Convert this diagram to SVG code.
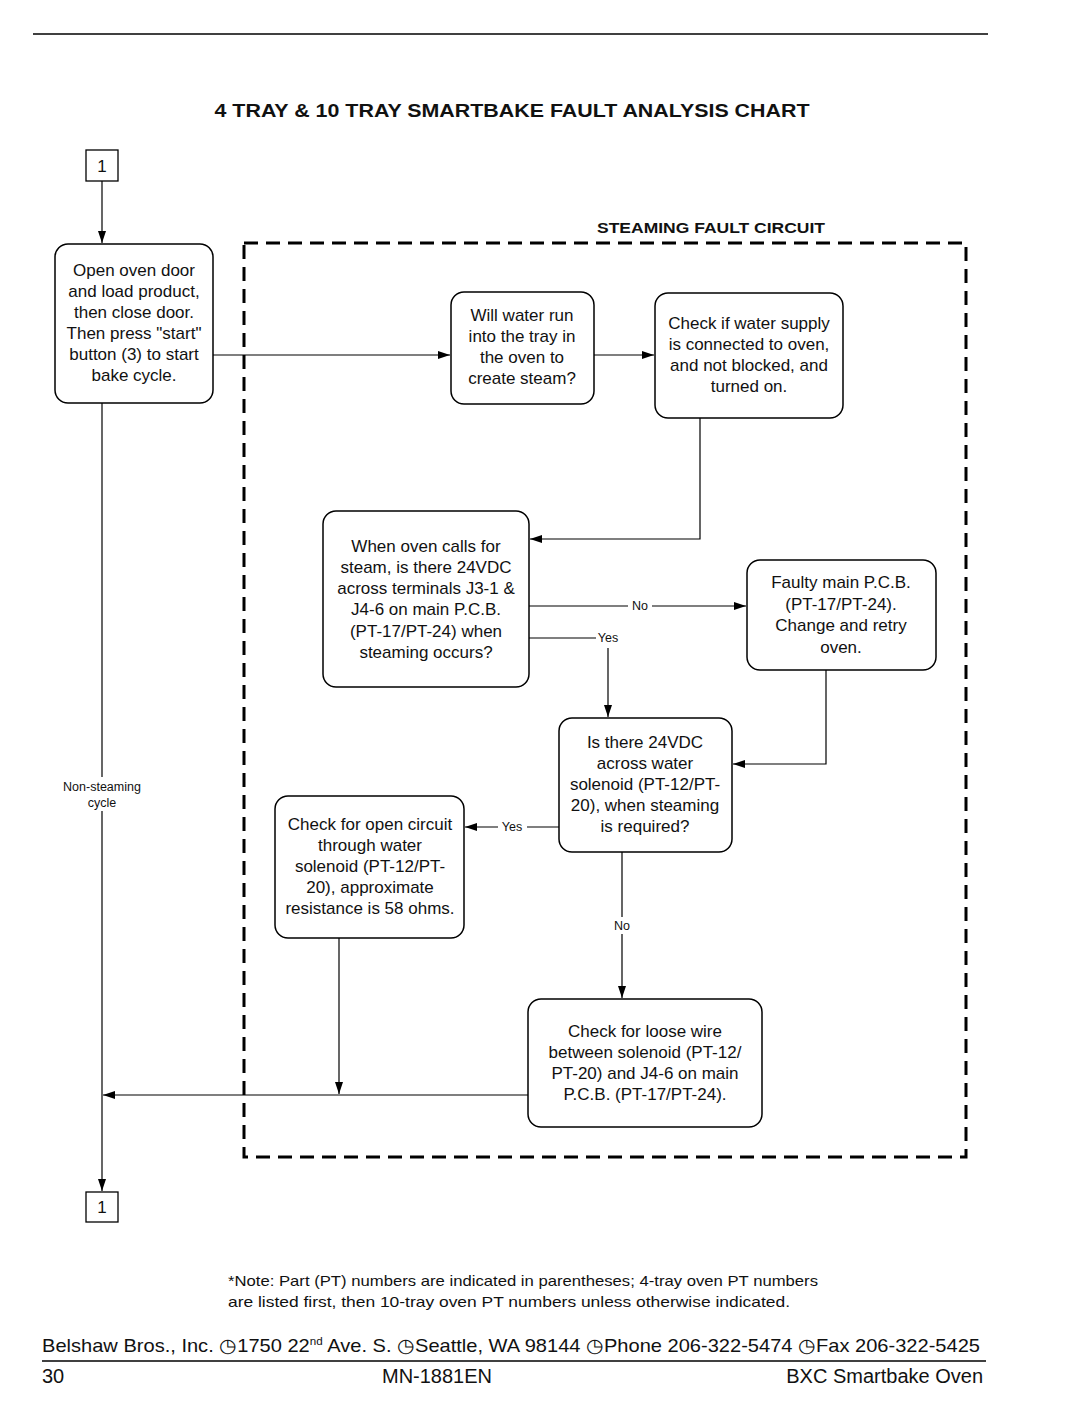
<svg xmlns="http://www.w3.org/2000/svg" width="1080" height="1425" viewBox="0 0 1080 1425">
<defs>
<marker id="arr" markerWidth="12" markerHeight="8" refX="12" refY="4" orient="auto" markerUnits="userSpaceOnUse">
<path d="M0,0 L12,4 L0,8 Z" fill="#000"/>
</marker>
<style>
.node rect{fill:#fff;stroke:#000;stroke-width:1.5}
.node text,.lbl{font-family:"Liberation Sans",Arial,sans-serif;font-size:17px;text-anchor:middle;fill:#111}
.conn path{fill:none;stroke:#000;stroke-width:1.2}
.conn path.a{marker-end:url(#arr)}
.lbl{font-size:12.5px}
.ft{font-family:"Liberation Sans",Arial,sans-serif;fill:#111}
</style>
</defs>
<rect width="1080" height="1425" fill="#fff"/>
<line x1="33" y1="34" x2="988" y2="34" stroke="#000" stroke-width="1.5"/>
<text x="512" y="117" class="ft" font-size="19" font-weight="bold" text-anchor="middle" textLength="595" lengthAdjust="spacingAndGlyphs">4 TRAY &amp; 10 TRAY SMARTBAKE FAULT ANALYSIS CHART</text>

<g id="steaming-fault-circuit">
<rect x="244" y="243" width="722" height="914" fill="none" stroke="#000" stroke-width="3" stroke-dasharray="14 8"/>
<text x="711" y="233" class="ft" font-size="14" font-weight="bold" text-anchor="middle" textLength="228" lengthAdjust="spacingAndGlyphs">STEAMING FAULT CIRCUIT</text>
</g>

<g id="connectors" class="conn">
<path class="a" d="M102,181 L102,243"/>
<path class="a" d="M213,355 L450,355"/>
<path class="a" d="M594,355 L654,355"/>
<path class="a" d="M700,418 L700,539 L530,539"/>
<path class="a" d="M529,606 L628,606 M652,606 L746,606"/>
<path d="M529,638 L596,638"/>
<path class="a" d="M608,648 L608,717"/>
<path class="a" d="M826,670 L826,764 L733,764"/>
<path class="a" d="M559,827 L527,827 M498,827 L465,827"/>
<path class="a" d="M622,852 L622,917 M622,934 L622,998"/>
<path class="a" d="M339,938 L339,1094"/>
<path class="a" d="M528,1095 L103,1095"/>
<path d="M102,403 L102,777"/>
<path class="a" d="M102,811 L102,1191"/>
<text x="640" y="610" class="lbl">No</text>
<text x="608" y="642" class="lbl">Yes</text>
<text x="512" y="831" class="lbl">Yes</text>
<text x="622" y="930" class="lbl">No</text>
<text x="102" y="791" class="lbl">Non-steaming</text>
<text x="102" y="807" class="lbl">cycle</text>
</g>

<g id="connector-top" class="node">
<rect x="86" y="150" width="32" height="31" style="stroke-width:1.3"/>
<text x="102" y="172">1</text>
</g>

<g id="start" class="node">
<rect x="55" y="244" width="158" height="159" rx="13"/>
<text x="134" y="276">Open oven door</text>
<text x="134" y="297">and load product,</text>
<text x="134" y="318">then close door.</text>
<text x="134" y="339">Then press "start"</text>
<text x="134" y="360">button (3) to start</text>
<text x="134" y="381">bake cycle.</text>
</g>

<g id="will-water" class="node">
<rect x="451" y="292" width="143" height="112" rx="13"/>
<text x="522" y="321">Will water run</text>
<text x="522" y="342">into the tray in</text>
<text x="522" y="363">the oven to</text>
<text x="522" y="384">create steam?</text>
</g>

<g id="check-supply" class="node">
<rect x="655" y="293" width="188" height="125" rx="13"/>
<text x="749" y="329">Check if water supply</text>
<text x="749" y="350">is connected to oven,</text>
<text x="749" y="371">and not blocked, and</text>
<text x="749" y="392">turned on.</text>
</g>

<g id="when-oven" class="node">
<rect x="323" y="511" width="206" height="176" rx="13"/>
<text x="426" y="552">When oven calls for</text>
<text x="426" y="573">steam, is there 24VDC</text>
<text x="426" y="594">across terminals J3-1 &amp;</text>
<text x="426" y="615">J4-6 on main P.C.B.</text>
<text x="426" y="637">(PT-17/PT-24) when</text>
<text x="426" y="658">steaming occurs?</text>
</g>

<g id="faulty-pcb" class="node">
<rect x="747" y="560" width="189" height="110" rx="13"/>
<text x="841" y="588">Faulty main P.C.B.</text>
<text x="841" y="610">(PT-17/PT-24).</text>
<text x="841" y="631">Change and retry</text>
<text x="841" y="653">oven.</text>
</g>

<g id="is-there" class="node">
<rect x="559" y="718" width="173" height="134" rx="13"/>
<text x="645" y="748">Is there 24VDC</text>
<text x="645" y="769">across water</text>
<text x="645" y="790">solenoid (PT-12/PT-</text>
<text x="645" y="811">20), when steaming</text>
<text x="645" y="832">is required?</text>
</g>

<g id="open-circuit" class="node">
<rect x="275" y="796" width="189" height="142" rx="13"/>
<text x="370" y="830">Check for open circuit</text>
<text x="370" y="851">through water</text>
<text x="370" y="872">solenoid (PT-12/PT-</text>
<text x="370" y="893">20), approximate</text>
<text x="370" y="914">resistance is 58 ohms.</text>
</g>

<g id="loose-wire" class="node">
<rect x="528" y="999" width="234" height="128" rx="13"/>
<text x="645" y="1037">Check for loose wire</text>
<text x="645" y="1058">between solenoid (PT-12/</text>
<text x="645" y="1079">PT-20) and J4-6 on main</text>
<text x="645" y="1100">P.C.B. (PT-17/PT-24).</text>
</g>

<g id="connector-bottom" class="node">
<rect x="86" y="1192" width="32" height="30" style="stroke-width:1.3"/>
<text x="102" y="1213">1</text>
</g>

<g id="footer">
<text x="523" y="1286" class="ft" font-size="15" text-anchor="middle" textLength="590" lengthAdjust="spacingAndGlyphs">*Note: Part (PT) numbers are indicated in parentheses; 4-tray oven PT numbers</text>
<text x="509" y="1307" class="ft" font-size="15" text-anchor="middle" textLength="562" lengthAdjust="spacingAndGlyphs">are listed first, then 10-tray oven PT numbers unless otherwise indicated.</text>
<text x="42" y="1352" class="ft" font-size="19" textLength="938" lengthAdjust="spacingAndGlyphs">Belshaw Bros., Inc. ◷1750 22<tspan font-size="11" dy="-7">nd</tspan><tspan dy="7"> Ave. S. ◷Seattle, WA 98144 ◷Phone 206-322-5474 ◷Fax 206-322-5425</tspan></text>
<line x1="42" y1="1361" x2="986" y2="1361" stroke="#000" stroke-width="1.5"/>
<text x="42" y="1383" class="ft" font-size="20">30</text>
<text x="437" y="1383" class="ft" font-size="20" text-anchor="middle">MN-1881EN</text>
<text x="983" y="1383" class="ft" font-size="20" text-anchor="end">BXC Smartbake Oven</text>
</g>
</svg>
